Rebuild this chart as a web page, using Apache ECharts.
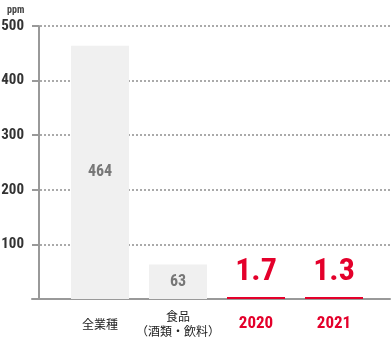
<!DOCTYPE html>
<html><head><meta charset="utf-8">
<script src="https://cdn.jsdelivr.net/npm/echarts@6/dist/echarts.min.js"></script>
<style>html,body{margin:0;padding:0;background:#fff}#c{width:392px;height:338px}</style>
</head><body><div id="c"></div>
<script>
const categories = ['全業種', '食品\n（酒類・飲料）', '2020', '2021'];
const values = [464, 63, 1.7, 1.3];
const yTicks = [100, 200, 300, 400, 500];
const unit = 'ppm';

const NARROW = "'Roboto Condensed','Liberation Sans Narrow','DejaVu Sans Condensed','Arial Narrow',Roboto,sans-serif";
const CJK = "'Noto Sans CJK JP','Noto Sans',sans-serif";
const RED = '#e4002b';

const chart = echarts.init(document.getElementById('c'), null, {renderer: 'canvas'});
const data = values.map((v, i) => {
  const isYear = i >= 2;
  return {
    value: [i, v],
    itemStyle: {color: isYear ? RED : '#f0f0f0'},
    label: isYear ? {
      show: true, position: 'top', distance: 9,
      color: RED, fontSize: 32, fontWeight: 'bold', fontFamily: NARROW
    } : {
      show: true, position: 'inside',
      color: '#777', fontSize: 16, fontWeight: 'bold', fontFamily: NARROW
    }
  };
});

chart.setOption({
  animation: false,
  title: {text: unit, left: 2, top: 0, textStyle: {fontSize: 10, color: '#444', fontWeight: 'bold', fontFamily: NARROW}},
  grid: {left: 32, right: 2, top: 26, bottom: 39, containLabel: false, outerBoundsMode: 'none'},
  xAxis: {
    type: 'value', min: -0.872, max: 3.718,
    axisLine: {show: true, onZero: false, lineStyle: {color: '#999', width: 2}},
    axisTick: {show: false},
    splitLine: {show: false},
    axisLabel: {
      customValues: [0, 1, 2, 3],
      margin: 25, verticalAlign: 'middle',
      formatter: v => {
        const c = categories[Math.round(v)];
        if (c === undefined) return '';
        if (Math.round(v) >= 2) return '{r|' + c + '}';
        return c.split('\n').map(s => '{a|' + s + '}').join('\n');
      },
      rich: {
        a: {color: '#222', fontSize: 12, lineHeight: 15, fontFamily: CJK},
        r: {color: RED, fontSize: 17, fontWeight: 'bold', fontFamily: NARROW}
      }
    }
  },
  yAxis: {
    type: 'value', min: 0, max: 500, interval: 100, offset: -7,
    axisLine: {show: true, onZero: false, lineStyle: {color: '#999', width: 2}},
    axisTick: {show: true, length: 7, lineStyle: {color: '#999', width: 2}},
    splitLine: {show: true, lineStyle: {color: '#aaa', width: 2, type: [2, 2]}},
    axisLabel: {
      margin: 15, color: '#333', fontSize: 15, fontWeight: 'bold', fontFamily: NARROW,
      formatter: v => (yTicks.indexOf(v) >= 0 ? String(v) : '')
    }
  },
  series: [{
    type: 'bar', barWidth: 58, barMinHeight: 2, data: data
  }]
});
</script></body></html>
